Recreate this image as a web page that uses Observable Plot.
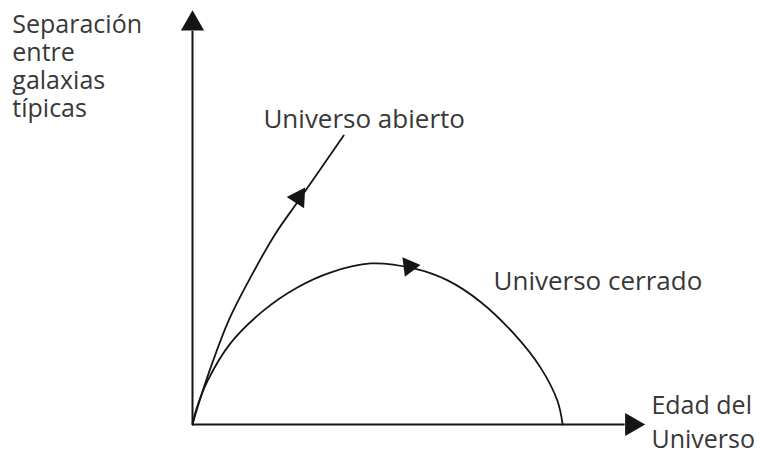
<!DOCTYPE html>
<html>
<head>
<meta charset="utf-8">
<script src="https://cdn.jsdelivr.net/npm/d3@7"></script>
<script src="https://cdn.jsdelivr.net/npm/@observablehq/plot@0.6"></script>
<style>
  html, body { margin: 0; padding: 0; background: #fff; }
</style>
</head>
<body>
<div id="chart"></div>
<script>
// Edad del Universo (x) vs separación entre galaxias (y), arbitrary units 0–100
const closedX = [0, 0.9, 3.4, 8.5, 15.9, 23.5, 30.9, 39.9, 49.6, 57.2, 64.6, 72.0, 78.0, 81.8, 83.0];
const closedY = [0, 3.8, 10.6, 19.6, 27.5, 33.1, 36.7, 38.9, 37.7, 34.8, 29.6, 22.0, 13.8, 5.8, 0];
const openX = [0, 1.2, 3.6, 8.1, 13.5, 18.6, 23.8, 33.9];
const openY = [0, 4.4, 12.3, 25.1, 36.5, 46.1, 54.1, 69.8];

// arrowheads: position and direction (degrees clockwise from up)
const arrowX = [0, 98.5, 23.8, 48.6];
const arrowY = [96.8, 0, 54.8, 38.2];
const arrowRot = [0, 90, 33, 83];
const arrowR = [8.6, 8.6, 7.7, 7.3];

// labels
const labelText = ["Separación\nentre\ngalaxias\ntípicas", "Universo abierto", "Universo cerrado", "Edad del\nUniverso"];
const labelX = [-40.4, 15.9, 67.5, 102.9];
const labelY = [74.2, 71.7, 32.4, -5.6];
const labelSize = [25, 26, 26, 25];
const labelLH = [1.12, 1, 1, 1.36];

const closed = closedX.map((x, i) => ({x, y: closedY[i]}));
const open = openX.map((x, i) => ({x, y: openY[i]}));
const arrows = arrowX.map((x, i) => ({x, y: arrowY[i], rot: arrowRot[i], r: arrowR[i]}));
const labels = labelText.map((t, i) => ({t, x: labelX[i], y: labelY[i], lh: labelLH[i], fs: labelSize[i]}));

const ink = "#151515";
const textInk = "#383838";

const chart = Plot.plot({
  width: 761,
  height: 455,
  x: {domain: [0, 100], range: [192, 638], axis: null},
  y: {domain: [0, 100], range: [424, 10], axis: null},
  r: {type: "identity"},
  style: {fontFamily: "'Open Sans', sans-serif", background: "#fff"},
  marks: [
    Plot.ruleX([0], {y1: 0, y2: 95, stroke: ink, strokeWidth: 2}),
    Plot.ruleY([0], {x1: 0, x2: 97, stroke: ink, strokeWidth: 2}),
    Plot.line(closed, {x: "x", y: "y", curve: "catmull-rom", stroke: ink, strokeWidth: 1.8}),
    Plot.line(open, {x: "x", y: "y", curve: "catmull-rom", stroke: ink, strokeWidth: 1.8}),
    Plot.dot(arrows, {x: "x", y: "y", r: "r", rotate: "rot", symbol: "triangle", fill: ink, stroke: "none"}),
    ...labels.map(l => Plot.text([l], {
      x: "x", y: "y", text: "t", textAnchor: "start", lineAnchor: "bottom",
      lineHeight: l.lh, fontSize: l.fs, fill: textInk
    }))
  ]
});
document.getElementById("chart").appendChild(chart);
</script>
</body>
</html>
